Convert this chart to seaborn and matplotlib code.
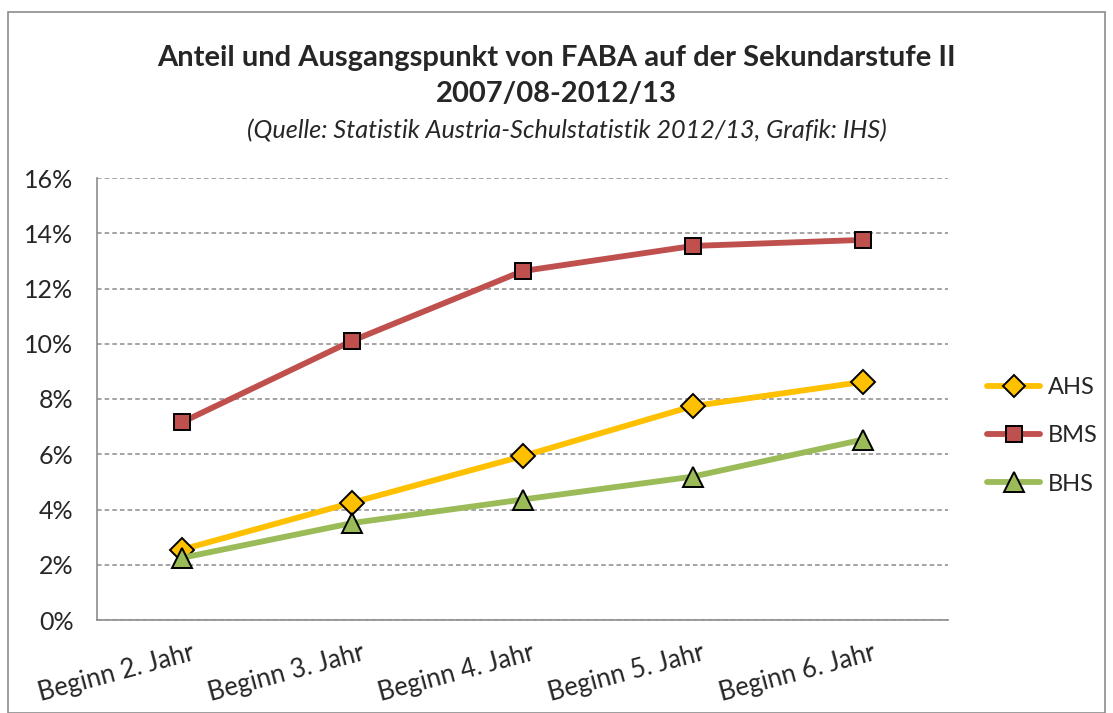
import matplotlib.pyplot as plt
import matplotlib.patches as mpatches
import matplotlib.ticker as mticker
import numpy as np
import pandas as pd
import seaborn as sns

categories = ["Beginn 2. Jahr", "Beginn 3. Jahr", "Beginn 4. Jahr",
              "Beginn 5. Jahr", "Beginn 6. Jahr"]
ahs = [2.55, 4.25, 5.93, 7.74, 8.62]
bms = [7.16, 10.11, 12.63, 13.54, 13.76]
bhs = [2.25, 3.51, 4.36, 5.19, 6.53]
series_names = ["AHS", "BMS", "BHS"]

colors = {"AHS": "#FFC000", "BMS": "#C0504D", "BHS": "#9BBB59"}
markers = {"AHS": "D", "BMS": "s", "BHS": "^"}
msize = {"AHS": 12, "BMS": 12, "BHS": 15}

df = pd.DataFrame({
    "pos": np.tile(np.arange(len(categories)), 3),
    "value": ahs + bms + bhs,
    "Schultyp": np.repeat(series_names, len(categories)),
})

sns.set_theme(style="white")
plt.rcParams["font.family"] = ["Lato", "DejaVu Sans"]

fig = plt.figure(figsize=(11.13, 7.13), dpi=100)
ax = fig.add_axes([97 / 1113, 1 - 620 / 713, (948 - 97) / 1113, (620 - 178) / 713])

# outer chart border
fig.patches.append(mpatches.Rectangle((8 / 1113, 0), 1097 / 1113, 1 - 12 / 713,
                                      transform=fig.transFigure, fill=False,
                                      edgecolor="#8c8c8c", linewidth=1.2))

sns.lineplot(data=df, x="pos", y="value", hue="Schultyp", style="Schultyp",
             palette=colors, markers=markers, dashes=False, linewidth=4.2,
             markersize=12, markeredgecolor="black", markeredgewidth=1.4,
             ax=ax, legend=False)

# bigger triangles like the original
for line in ax.get_lines():
    if line.get_marker() == "^":
        line.set_markersize(msize["BHS"])

ax.set_xlim(-0.5, len(categories) - 0.5)
ax.set_ylim(0, 16)
ax.yaxis.set_major_locator(mticker.MultipleLocator(2))
ax.yaxis.set_major_formatter(mticker.FuncFormatter(lambda v, p: f"{v:.0f}%"))
ax.set_xticks(np.arange(len(categories)))
ax.set_xticklabels([])
ax.set_xticks(np.arange(-0.5, len(categories)), minor=True)
ax.tick_params(axis="x", which="major", length=0)
ax.tick_params(axis="x", which="minor", length=7, color="#8c8c8c", width=1.2, direction="out")
ax.tick_params(axis="y", length=7, color="#8c8c8c", width=1.2, direction="out",
               labelsize=18, pad=10)
for i, cat in enumerate(categories):
    ax.text(i + 0.05, -0.75, cat, rotation=15, rotation_mode="anchor",
            ha="right", va="top", fontsize=18.5, transform=ax.transData)

ax.grid(axis="y", linestyle=(0, (3, 2)), color="#8c8c8c", linewidth=1.1)
ax.set_axisbelow(True)
for side in ["top", "right"]:
    ax.spines[side].set_visible(False)
for side in ["left", "bottom"]:
    ax.spines[side].set_color("#8c8c8c")
    ax.spines[side].set_linewidth(1.2)
ax.set_xlabel("")
ax.set_ylabel("")

handles = [plt.Line2D([], [], color=colors[n], marker=markers[n], linewidth=4.2,
                      markersize=msize[n] - 1, markeredgecolor="black",
                      markeredgewidth=1.4, solid_capstyle="round")
           for n in series_names]
fig.legend(handles, series_names, loc="center left",
           bbox_to_anchor=(966 / 1113, 1 - 436 / 713), frameon=False,
           fontsize=17, handlelength=2.25, labelspacing=1.15, handletextpad=0.3)

fig.text(0.5, 1 - 76 / 713,
         "Anteil und Ausgangspunkt von FABA auf der Sekundarstufe II\n2007/08-2012/13",
         ha="center", va="center", fontsize=21, fontweight="bold", linespacing=1.5)
fig.text(567 / 1113, 1 - 131 / 713,
         "(Quelle: Statistik Austria-Schulstatistik 2012/13, Grafik: IHS)",
         ha="center", va="center", fontsize=18.2, style="italic")

fig.savefig("out.png", dpi=100)
